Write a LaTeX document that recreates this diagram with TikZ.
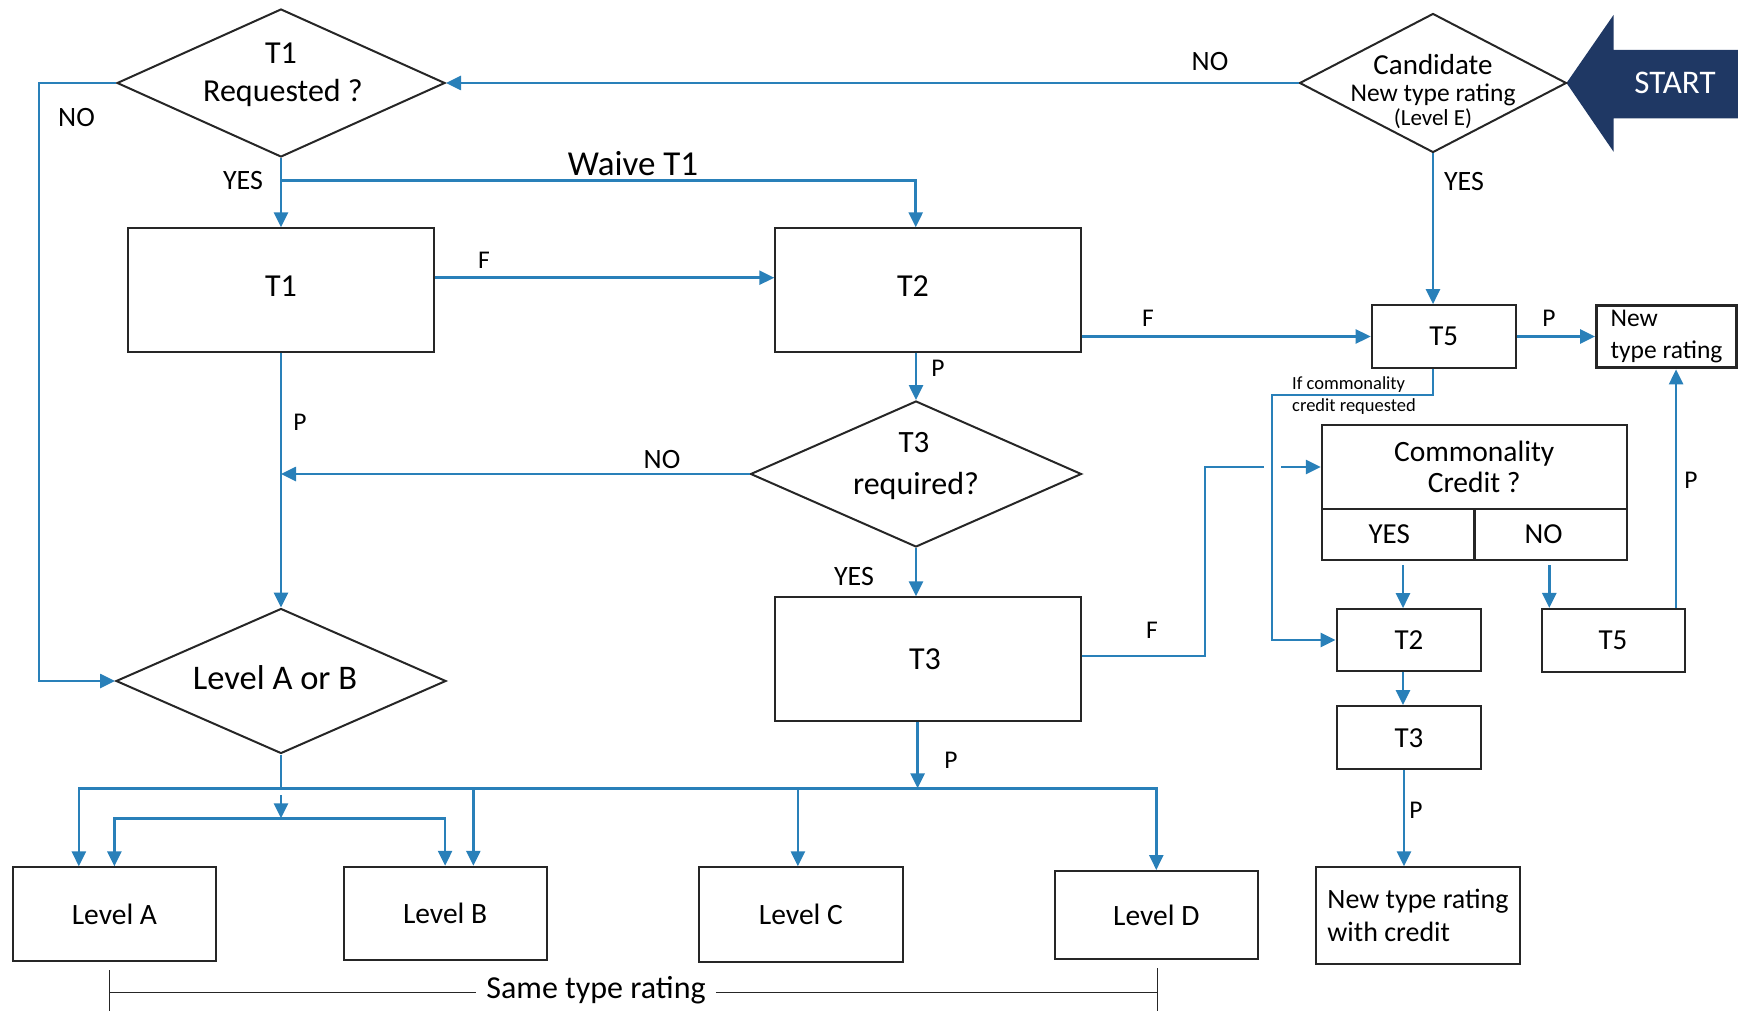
\documentclass[tikz,border=0pt]{standalone}
\usepackage{fontspec}
\setmainfont{Carlito}
\usetikzlibrary{shapes.geometric,arrows.meta,calc}
\definecolor{lineblue}{RGB}{41,128,185}
\definecolor{navy}{RGB}{31,56,100}
\definecolor{boxline}{RGB}{38,38,38}
\newcommand{\fsz}[2]{\fontsize{#1}{#2}\selectfont}
\begin{document}
\begin{tikzpicture}[x=1pt,y=-1pt,
  conn/.style={draw=lineblue,line width=2.6pt},
  arr/.style={conn,-{Triangle[length=15pt,width=14pt]}},
  box/.style={draw=boxline,line width=2pt,inner sep=0pt,font=\fsz{29}{35}},
  lvl/.style={box,font=\fsz{29.5}{35}},
  bigbox/.style={box,font=\fsz{32}{38},minimum width=305.4pt,minimum height=123.4pt},
  dia/.style={diamond,draw=boxline,line width=2pt,inner sep=0pt},
  lbl/.style={inner sep=0pt,font=\fsz{25.5}{30}},
  yn/.style={inner sep=0pt,font=\fsz{28}{33}},
  brk/.style={draw=boxline,line width=1pt}
]
\useasboundingbox (0,0) rectangle (1738,1011);

% START arrow
\fill[navy] (1566.5,83) -- (1613.5,15) -- (1613.5,50) -- (1738,50) -- (1738,118.3) -- (1613.5,118.3) -- (1613.5,151.7) -- cycle;
\node[font=\fsz{33}{39},text=white] (start) at (1675,83) {START};

% diamonds
\node[dia,minimum width=328pt,minimum height=148pt] (t1d) at (281,83) {};
\node[font=\fsz{32}{38}] (t1dA) at (281,53) {T1};
\node[font=\fsz{32}{38}] (t1dB) at (283,93) {Requested ?};

\node[dia,minimum width=267pt,minimum height=139pt] (cand) at (1433,83) {};
\node[font=\fsz{29}{35}] (candA) at (1433,65) {Candidate};
\node[font=\fsz{25.5}{30}] (candB) at (1433,95) {New type rating};
\node[font=\fsz{23}{28}] (candC) at (1433,119) {(Level E)};

\node[dia,minimum width=331pt,minimum height=146pt] (t3d) at (916,474) {};
\node[font=\fsz{31}{37}] (t3dA) at (914,443) {T3};
\node[font=\fsz{32}{38}] (t3dB) at (916,486) {required?};

\node[dia,minimum width=330pt,minimum height=145pt] (lab) at (281,681) {};
\node[font=\fsz{34.5}{41}] (labt) at (275,678) {Level A or B};

% boxes
\node[bigbox,text depth=8pt] (t1box) at (281,290) {T1};
\node[bigbox,text depth=8pt] (t2box) at (928,290) {\hspace*{-30pt}T2};
\node[bigbox] (t3box) at (928,659) {\hspace*{-6pt}T3};
\node[box,minimum width=144pt,minimum height=62.7pt] (t5box) at (1443.7,336.5) {T5};
\node[box,line width=3pt,font=\fsz{25.5}{31.7},align=left,minimum width=140pt,minimum height=62.7pt] (ntr) at (1666.5,336.5) {New\\type rating};

\node[box,align=center,font=\fsz{29.5}{30.6},minimum width=304.8pt,minimum height=84pt] (comm) at (1474.2,467) {Commonality\\Credit ?};
\node[box,minimum width=152.7pt,minimum height=51pt] (commyes) at (1398.2,534.5) {\hspace*{-18pt}YES};
\node[box,minimum width=152.1pt,minimum height=51pt] (commno) at (1550.5,534.5) {\hspace*{-14pt}NO};
\node[box,minimum width=144.8pt,minimum height=61.7pt] (t2b) at (1409,640) {T2};
\node[box,minimum width=143pt,minimum height=62.7pt] (t5b) at (1613,640.3) {T5};
\node[box,minimum width=144.8pt,minimum height=63.3pt] (t3b) at (1409,737.7) {T3};
\node[box,align=left,font=\fsz{28}{33.3},minimum width=204pt,minimum height=96.7pt] (ntrc) at (1418,915.7) {New type rating\\with credit};

\node[lvl,minimum width=203.6pt,minimum height=93.7pt] (lvla) at (114.4,914.2) {Level A};
\node[lvl,minimum width=202.8pt,minimum height=93.3pt] (lvlb) at (445.1,913.4) {Level B};
\node[lvl,minimum width=203.7pt,minimum height=94.4pt] (lvlc) at (800.9,914.5) {Level C};
\node[lvl,minimum width=203.5pt,minimum height=88.3pt] (lvld) at (1156.3,915.2) {Level D};

% labels
\node[yn] (noTop) at (1210,62) {NO};
\node[yn] (noLeft) at (76.5,118) {NO};
\node[yn] (yesT1) at (243,181) {YES};
\node[inner sep=0pt,font=\fsz{35}{42}] (waive) at (633,164) {Waive T1};
\node[lbl] (fT1) at (484,260) {F};
\node[lbl] (fT2) at (1148,318) {F};
\node[lbl] (pT2) at (938,368) {P};
\node[lbl] (pT1) at (300,422) {P};
\node[yn] (noT3) at (662,460) {NO};
\node[yn] (yesT3) at (854,577) {YES};
\node[lbl] (fT3) at (1152,630) {F};
\node[lbl] (pT3) at (951,760) {P};
\node[yn] (yesCand) at (1464,182) {YES};
\node[lbl] (pT5) at (1549,318) {P};
\node[lbl] (pT5b) at (1691,480) {P};
\node[lbl] (pT3b) at (1416,810) {P};
\node[inner sep=0pt,font=\fsz{18.5}{22},anchor=west] (ifc1) at (1292,385) {If commonality};
\node[inner sep=0pt,font=\fsz{18.5}{22},anchor=west] (ifc2) at (1292,407) {credit requested};
\node[font=\fsz{32}{38},inner sep=10pt] (same) at (596,990) {Same type rating};

% connectors
\draw[arr] (cand.west) -- (t1d.east);
\coordinate (noL) at (39,83);
\draw[arr] (t1d.west) -- (noL) |- (lab.west);
\draw[arr] (t1d.south) -- (t1box.north);
\coordinate (wv) at (281,180.7);
\coordinate (t2in) at ($(t2box.north west)!0.46!(t2box.north east)$);
\draw[arr] (wv) -| (t2in);
\coordinate (t1out) at ($(t1box.east)+(0,-12.3)$);
\draw[arr] (t1out) -- (t1out -| t2box.west);
\draw[arr] (t2box.east |- t5box.west) -- (t5box.west);
\draw[arr] (t3d.north |- t2box.south) -- (t3d.north);
\draw[arr] (t3d.west) -- (t3d.west -| t1box.south);
\draw[arr] (t1box.south) -- (lab.north);
\draw[arr] (t3d.south) -- (t3d.south |- t3box.north);

\coordinate (bus) at (281,788.3);
\coordinate (t3out) at ($(t3box.south)+(-10.4,0)$);
\draw[arr] (t3out) -- (t3out |- bus);

\coordinate (fx) at (1205,467);
\coordinate (gapL) at (1264,467);
\coordinate (gapR) at (1281,467);
\draw[conn] ($(t3box.east)+(0,-3)$) -| (fx) -- (gapL);
\draw[arr] (gapR) -- (comm.west);

\draw[arr] (cand.south) -- (cand.south |- t5box.north);
\draw[arr] (t5box.east) -- (ntr.west);
\coordinate (cc1) at (1272,395);
\draw[arr] (cand.south |- t5box.south) |- (cc1) |- (t2b.west);

\coordinate (yesS) at ($(commyes.south)+(4.8,4)$);
\draw[arr] (yesS) -- (yesS |- t2b.north);
\coordinate (noS) at ($(commno.south)+(-1.2,4)$);
\draw[arr] (noS) -- (noS |- t5b.north);
\coordinate (t5up) at ($(t5b.north west)!0.935!(t5b.north east)$);
\draw[arr] (t5up) -- (t5up |- ntr.south);
\coordinate (t2bS) at ($(t2b.south)+(-6,0)$);
\draw[arr] (t2bS) -- (t2bS |- t3b.north);
\coordinate (t3bS) at ($(t3b.south)+(-5,0)$);
\draw[arr] (t3bS) -- (t3bS |- ntrc.north);

% tree to levels
\draw[conn] (lab.south) -- (bus);
\coordinate (aA1) at ($(lvla.north west)!0.327!(lvla.north east)$);
\coordinate (aB2) at ($(lvlb.north west)!0.638!(lvlb.north east)$);
\coordinate (aC) at ($(lvlc.north)+(-3,0)$);
\draw[arr] (t3out |- bus) -| (aA1);
\draw[arr] (t3out |- bus) -| (lvld.north);
\draw[arr] (aB2 |- bus) -- (aB2);
\draw[arr] (aC |- bus) -- (aC);
\coordinate (bus2) at (281,818.3);
\draw[arr] ($(bus)+(0,6.7)$) -- (bus2);
\draw[arr] (bus2) -| (lvla.north);
\draw[arr] (bus2) -| (lvlb.north);

% bracket
\coordinate (brL) at (109.8,992);
\coordinate (brR) at (1157,992);
\draw[brk] (brL) -- (same.west |- brL);
\draw[brk] (same.east |- brR) -- (brR);
\draw[brk] ($(brL)+(0,-22)$) -- ($(brL)+(0,19)$);
\draw[brk] ($(brR)+(0,-24)$) -- ($(brR)+(0,19)$);
\end{tikzpicture}
\end{document}
